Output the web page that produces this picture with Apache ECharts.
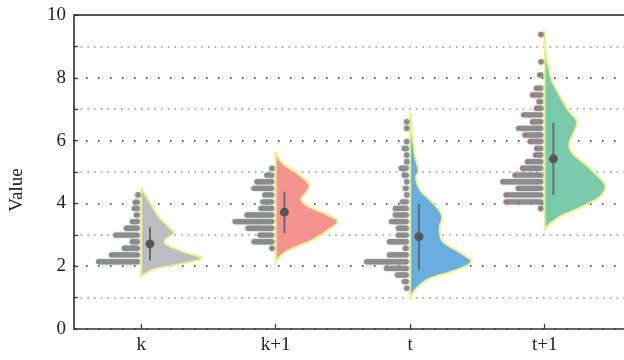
<!DOCTYPE html>
<html>
<head>
<meta charset="utf-8">
<script src="https://cdn.jsdelivr.net/npm/echarts@6/dist/echarts.min.js"></script>
<style>html,body{margin:0;padding:0;background:#fff}#chart{width:624px;height:360px}</style>
</head>
<body>
<div id="chart"></div>
<script>
// ---------- data ----------
const CATEGORIES = ['k', 'k+1', 't', 't+1'];
const Y_LABELS = [0, 2, 4, 6, 8, 10];

// histograms: [value, frequency]
const K_HIST = [[4.27,3.5],[4.04,7],[3.84,8],[3.63,6],[3.42,10],[3.21,16],[2.99,27],[2.78,10],[2.57,18],[2.36,31],[2.14,44]];
const K1_HIST = [[5.12,4.5],[4.90,10],[4.69,20],[4.48,23],[4.27,12],[4.05,14],[3.84,16],[3.63,30],[3.42,42],[3.21,29],[2.99,17],[2.78,23],[2.57,4.5]];
const T_HIST = [[6.60,4],[6.39,4],[5.97,4],[5.75,7],[5.54,4],[5.33,4],[5.12,10],[4.90,7],[4.69,4],[4.48,6],[4.27,4],[4.05,9],[3.84,16],[3.63,16],[3.42,20],[3.21,13],[2.99,13],[2.78,22],[2.57,6],[2.36,22],[2.14,45],[1.93,25],[1.72,14],[1.51,7],[1.30,4]];
const T1_HIST = [[9.38,4.3],[8.51,4.3],[8.09,6],[7.67,9.3],[7.45,13.3],[7.24,6.7],[7.03,9.3],[6.82,22.3],[6.60,13.3],[6.39,27.3],[6.18,21],[5.97,15.7],[5.75,9],[5.54,10.3],[5.33,18.3],[5.12,23.3],[4.90,31],[4.69,43.3],[4.48,27.7],[4.27,40],[4.05,40],[3.84,5]];

// half-violin density: [value, density]
const K_VIOLIN = [[4.49,0],[4.0,9.3],[3.58,17.7],[3.21,29],[3.05,33],[2.83,24],[2.68,26],[2.46,42.7],[2.25,61],[2.09,42.7],[1.93,16],[1.77,4.3],[1.67,0]];
const K1_VIOLIN = [[5.62,0],[5.28,6.7],[4.96,21.7],[4.69,31.7],[4.53,34],[4.32,30],[4.11,26],[3.89,34],[3.63,53],[3.42,62.7],[3.15,53],[2.83,36.7],[2.52,14],[2.3,4],[2.13,0]];
const T_VIOLIN = [[6.92,0],[6.02,2.7],[5.49,5],[5.06,8.3],[4.80,6],[4.43,10],[4.11,20],[3.79,29.3],[3.53,32.3],[3.26,30],[2.94,30.7],[2.73,35],[2.41,51.7],[2.14,61.7],[1.88,46.7],[1.61,20],[1.35,8.3],[1.14,2.7],[0.95,0]];
const T1_VIOLIN = [[9.47,0],[8.78,1.3],[8.35,4],[7.93,7.3],[7.40,15.7],[6.97,24],[6.60,32.7],[6.23,29],[5.91,25],[5.60,28],[5.17,44],[4.75,57.3],[4.53,61.3],[4.21,55.7],[3.89,37.3],[3.58,15.7],[3.31,4],[3.15,0]];

// summary: center point and interval
const BOX_CENTER = [2.71, 3.72, 2.94, 5.42];
const BOX_LOW = [2.18, 3.05, 1.88, 4.27];
const BOX_HIGH = [3.24, 4.37, 3.98, 6.57];

// ---------- styling ----------
const HISTS = [K_HIST, K1_HIST, T_HIST, T1_HIST];
const VIOLINS = [K_VIOLIN, K1_VIOLIN, T_VIOLIN, T1_VIOLIN];
const FILLS = ['#bcbdc1', '#f4938f', '#68aee0', '#79cbab'];
const DOTS = ['#2a9fb8', '#2f9f92', '#7d93ab', '#dc5147'];
const UNIT = 1 / 136;      // frequency/density unit in category units
const BOX_OFFSET = 0.065;  // summary placed right of baseline

function catmull(pts) {
  const out = [];
  const n = pts.length;
  for (let j = 0; j < n - 1; j++) {
    const p0 = pts[Math.max(j - 1, 0)], p1 = pts[j], p2 = pts[j + 1], p3 = pts[Math.min(j + 2, n - 1)];
    const steps = 10;
    for (let s = 0; s < steps; s++) {
      const t = s / steps, t2 = t * t, t3 = t2 * t;
      const f = (a, b, c, d) => 0.5 * ((2 * b) + (-a + c) * t + (2 * a - 5 * b + 4 * c - d) * t2 + (-a + 3 * b - 3 * c + d) * t3);
      out.push([f(p0[0], p1[0], p2[0], p3[0]), f(p0[1], p1[1], p2[1], p3[1])]);
    }
  }
  out.push(pts[n - 1]);
  return out;
}

function makeSeries(i) {
  return {
    type: 'custom',
    name: CATEGORIES[i],
    xAxisIndex: 0, yAxisIndex: 0,
    clip: false,
    data: [[i, BOX_CENTER[i]]],
    encode: { x: 0, y: 1 },
    renderItem: function (params, api) {
      const children = [];
      const base = api.coord([i, 0])[0];
      // violin
      const vp = VIOLINS[i].map(d => api.coord([i + d[1] * UNIT, d[0]]));
      let curve = catmull(vp).map(p => [Math.max(p[0], base), p[1]]);
      children.push({
        type: 'polygon',
        shape: { points: curve },
        style: { fill: FILLS[i], stroke: '#eef08a', lineWidth: 2, lineJoin: 'round' }
      });
      // histogram strips
      HISTS[i].forEach(h => {
        const l = api.coord([i - h[1] * UNIT, h[0]]);
        const r = api.coord([i, h[0]]);
        const xr = r[0] - 1.5, xl = l[0] - 1.5, y = r[1];
        if (xr - xl <= 5) {
          children.push({ type: 'circle', shape: { cx: (xl + xr) / 2, cy: y, r: 2.8 }, style: { fill: '#8d8d8d', shadowBlur: 2, shadowColor: 'rgba(140,140,140,0.6)' } });
          children.push({ type: 'circle', shape: { cx: (xl + xr) / 2, cy: y, r: 1.1 }, style: { fill: DOTS[i] } });
        } else {
          children.push({ type: 'line', shape: { x1: xl + 2.5, y1: y, x2: xr - 2.5, y2: y },
            style: { stroke: '#8d8d8d', lineWidth: 5.4, lineCap: 'round', shadowBlur: 2, shadowColor: 'rgba(140,140,140,0.6)' } });
          if (i === 1) {
            children.push({ type: 'line', shape: { x1: xl + 2.5, y1: y, x2: xr - 2.5, y2: y },
              style: { stroke: DOTS[i], lineWidth: 1.2, lineDash: [1.2, 1.8], opacity: 0.8 } });
          } else {
            children.push({ type: 'circle', shape: { cx: xl + 2.6, cy: y, r: 1.1 }, style: { fill: DOTS[i] } });
          }
        }
      });
      // summary
      const lo = api.coord([i + BOX_OFFSET, BOX_LOW[i]]);
      const hi = api.coord([i + BOX_OFFSET, BOX_HIGH[i]]);
      const c = api.coord([i + BOX_OFFSET, BOX_CENTER[i]]);
      children.push({ type: 'line', shape: { x1: lo[0], y1: lo[1], x2: hi[0], y2: hi[1] },
        style: { stroke: '#6a6a6a', lineWidth: 2 } });
      children.push({ type: 'circle', shape: { cx: c[0], cy: c[1], r: 4.5 }, style: { fill: '#575757' } });
      return { type: 'group', children: children };
    }
  };
}

const FONT = 'Liberation Serif';
const chart = echarts.init(document.getElementById('chart'), null, { renderer: 'canvas' });
chart.setOption({
  animation: false,
  backgroundColor: '#ffffff',
  grid: { left: 68, right: 0, top: 15, bottom: 31, containLabel: false },
  xAxis: [{
    type: 'value', min: -0.5, max: 3.59,
    axisLine: { show: true, onZero: false, lineStyle: { color: '#333', width: 1.5 } },
    axisTick: { show: true, inside: true, length: 5, customValues: [0, 1, 2, 3], lineStyle: { color: '#333', width: 1.2 } },
    axisLabel: { customValues: [0, 1, 2, 3], formatter: v => CATEGORIES[Math.round(v)], fontFamily: FONT, fontSize: 19, color: '#222', margin: 7 },
    splitLine: { show: false }
  }, {
    type: 'value', position: 'top', min: -0.5, max: 3.59,
    axisLine: { show: true, onZero: false, lineStyle: { color: '#555', width: 2.2 } },
    axisTick: { show: false }, axisLabel: { show: false }, splitLine: { show: false }
  }],
  yAxis: [{
    type: 'value', min: 0, max: 10, interval: 1,
    name: 'Value', nameLocation: 'middle', nameGap: 47,
    nameTextStyle: { fontFamily: FONT, fontSize: 19, color: '#222', padding: [0, 36, 0, 0] },
    axisLine: { show: true, onZero: false, lineStyle: { color: '#222', width: 1.5 } },
    axisTick: { show: true, inside: true, length: 4, lineStyle: { color: '#333', width: 1.2 } },
    axisLabel: { formatter: v => (Y_LABELS.indexOf(v) >= 0 ? String(v) : ''), fontFamily: FONT, fontSize: 19, color: '#222', margin: 8 },
    splitLine: { show: true, lineStyle: { color: ['rgba(0,0,0,0)', '#8f8f8f'], width: 1.5, type: [1.5, 5.2] } }
  }, {
    type: 'value', min: 0, max: 10, interval: 2, position: 'right',
    axisLine: { show: false }, axisTick: { show: false }, axisLabel: { show: false },
    splitLine: { show: true, lineStyle: { color: '#222', width: 1.5, type: [1.5, 10.5] } }
  }],
  series: [0, 1, 2, 3].map(makeSeries)
});
</script>
</body>
</html>
